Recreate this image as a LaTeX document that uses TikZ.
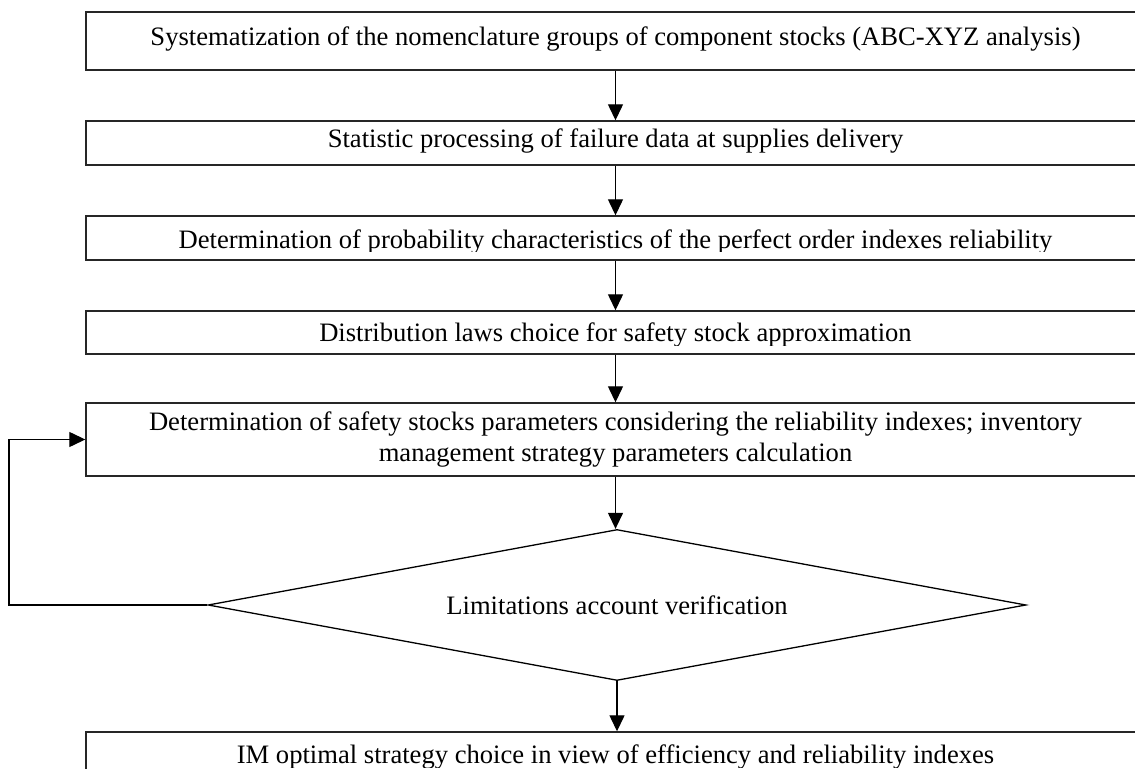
\documentclass[tikz,border=0pt]{standalone}
\usepackage{fontspec}
\setmainfont{Liberation Serif}
\usetikzlibrary{arrows.meta,shapes.geometric}
\begin{document}
\begin{tikzpicture}[x=0.5pt,y=-0.5pt,
  box/.style={draw=black!85, line width=0.7pt, inner sep=0pt, minimum width=529.5pt},
  lbl/.style={font=\fontsize{13.3}{15.5}\selectfont, inner sep=0pt},
  arr/.style={-{Triangle[length=8pt,width=7.5pt]}, line width=0.65pt}]
\clip (0,0) rectangle (1135,769);
\fill[white] (0,0) rectangle (1135,769);
% boxes
\node[box, minimum height=29pt]   (b1) at (615.5,41) {};
\node[box, minimum height=22pt]   (b2) at (615.5,143) {};
\node[box, minimum height=22pt]   (b3) at (615.5,238) {};
\node[box, minimum height=21.5pt] (b4) at (615.5,332.5) {};
\node[box, minimum height=36.5pt, lbl, align=center] (b5) at (615.5,439.5)
  {Determination of safety stocks parameters considering the reliability indexes; inventory\\management strategy parameters calculation};
\node[diamond, draw=black, line width=0.65pt, inner sep=0pt, aspect=5.4,
      minimum width=409pt, minimum height=75.5pt, lbl] (d) at (617,605)
  {Limitations account verification};
\node[box, minimum height=30pt]   (b8) at (615.5,762) {};
% texts
\node[lbl, anchor=base] (t1) at (615.5,45.7) {Systematization of the nomenclature groups of component stocks (ABC-XYZ analysis)};
\node[lbl, anchor=base] (t2) at (615.5,147.3) {Statistic processing of failure data at supplies delivery};
\begin{scope}
  \clip (86,216) rectangle (1135,252);
  \node[lbl, anchor=base] (t3) at (615.5,248.3) {Determination of probability characteristics of the perfect order indexes reliability};
\end{scope}
\begin{scope}
  \clip (86,311) rectangle (1135,345.7);
  \node[lbl, anchor=base] (t4) at (615.5,341.7) {Distribution laws choice for safety stock approximation};
\end{scope}
\begin{scope}
  \clip (86,732) rectangle (1135,767);
  \node[lbl, anchor=base] (t8) at (615.5,763) {IM optimal strategy choice in view of efficiency and reliability indexes};
\end{scope}
% connectors
\draw[arr] (b1.south) -- (b2.north);
\draw[arr] (b2.south) -- (b3.north);
\draw[arr] (b3.south) -- (b4.north);
\draw[arr] (b4.south) -- (b5.north);
\draw[arr] (b5.south) -- (b5.south |- d.north);
\draw[arr] (d.south) -- (d.south |- b8.north);
\coordinate (fb) at (9,605);
\draw[arr] (d.west) -- (fb) |- (b5.west);
\end{tikzpicture}
\end{document}
